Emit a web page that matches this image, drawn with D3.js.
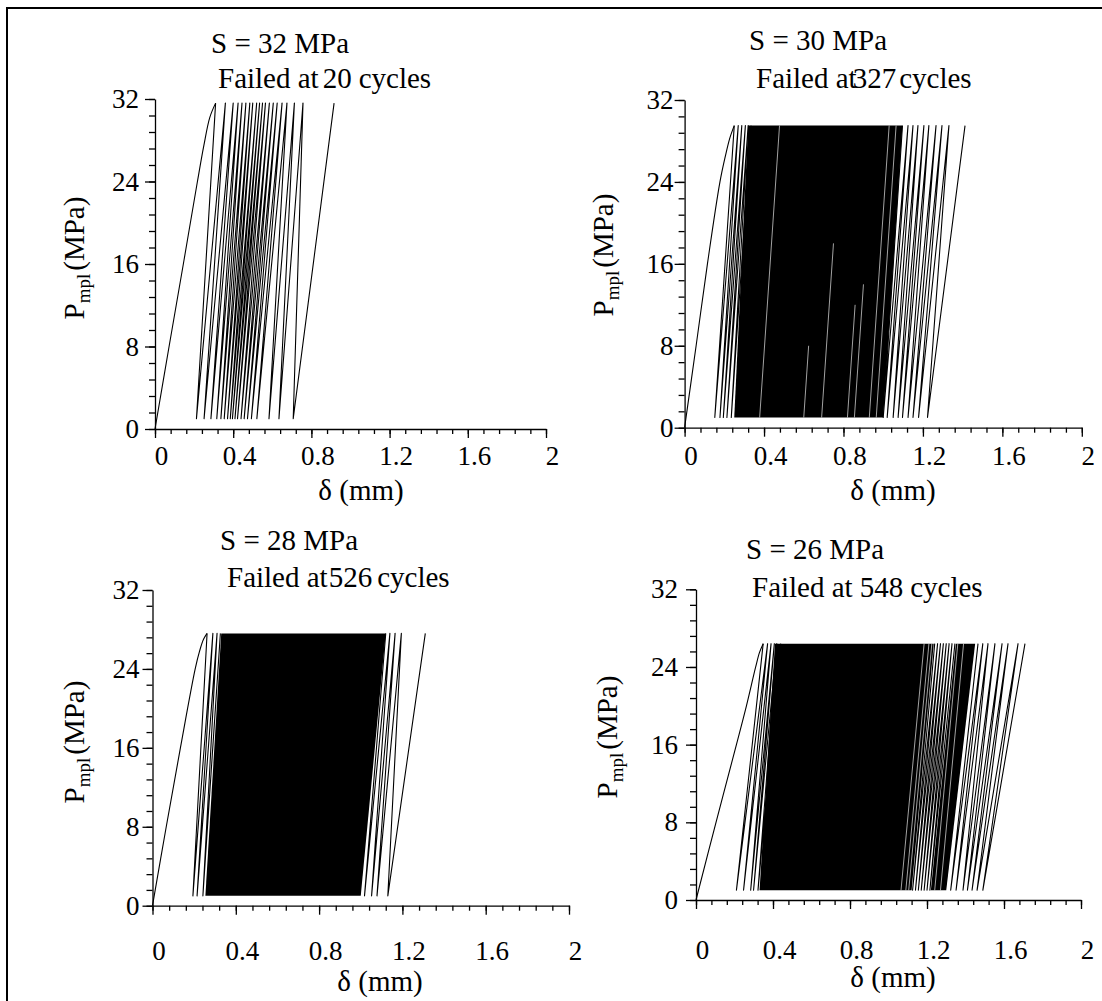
<!DOCTYPE html>
<html>
<head>
<meta charset="utf-8">
<script src="https://cdn.jsdelivr.net/npm/d3@7"></script>
<style>
  body { margin: 0; background: #fff; }
  svg, svg text { font-family: "Liberation Serif", "Times New Roman", "DejaVu Serif", serif; fill: #000; }
</style>
</head>
<body>
<svg id="fig" width="1102" height="1001"></svg>
<script>
// ---- data ----
const stress = [32, 30, 28, 26];          // S (MPa)
const failCycles = [20, 327, 526, 548];
const pMax = [31.6, 29.5, 27.6, 26.4];     // peak of each cycle (MPa)
const pMin = [1, 1, 1, 1];                 // valley of each cycle (MPa)
const xTickVals = [0, 0.4, 0.8, 1.2, 1.6, 2];
const yTickVals = [0, 8, 16, 24, 32];

// first loading branch: displacement (mm) / stress (MPa)
const load1D = [0, 0.072, 0.145, 0.217, 0.25, 0.28, 0.31];
const load1P = [0, 8, 16, 24, 27.5, 30.2, 31.6];
const load2D = [0, 0.058, 0.115, 0.178, 0.205, 0.228, 0.25];
const load2P = [0, 8, 16, 24, 26.5, 28.3, 29.5];
const load3D = [0, 0.066, 0.134, 0.205, 0.226, 0.245, 0.262];
const load3P = [0, 8, 16, 24, 25.8, 27, 27.6];
const load4D = [0, 0.104, 0.21, 0.262, 0.31, 0.33, 0.349];
const load4P = [0, 8, 16, 20, 24, 25.5, 26.4];

// visible cycles: δ where a line reaches the peak (tops) and the valley (bottoms)
const tops1 = [0.31, 0.36, 0.40, 0.425, 0.445, 0.465, 0.485, 0.50, 0.52, 0.535, 0.55, 0.565, 0.585, 0.605, 0.625, 0.65, 0.675, 0.713, 0.757, 0.916];
const bottoms1 = [0.212, 0.251, 0.286, 0.316, 0.337, 0.354, 0.371, 0.385, 0.396, 0.409, 0.422, 0.44, 0.456, 0.473, 0.493, 0.521, 0.583, 0.634, 0.707];

const tops2L = [0.25, 0.27, 0.288, 0.306, 0.32, 0.335];
const bottoms2L = [0.152, 0.178, 0.195, 0.213, 0.235];
const tops2R = [1.097, 1.125, 1.15, 1.175, 1.205, 1.23, 1.266, 1.296, 1.331, 1.412];
const bottoms2R = [1.0, 1.02, 1.05, 1.075, 1.097, 1.125, 1.15, 1.178, 1.223];

const tops3L = [0.262, 0.29, 0.31, 0.326];
const bottoms3L = [0.194, 0.214, 0.242];
const tops3R = [1.12, 1.14, 1.165, 1.195, 1.31];
const bottoms3R = [1.018, 1.052, 1.078, 1.13];

const tops4L = [0.349, 0.372, 0.39, 0.407, 0.42, 0.44];
const bottoms4L = [0.21, 0.247, 0.284, 0.299, 0.322];
const tops4M = [1.24, 1.255, 1.27, 1.285, 1.30, 1.315, 1.33, 1.345];
const bottoms4M = [1.125, 1.14, 1.155, 1.17, 1.185, 1.20, 1.215];
const tops4R = [1.465, 1.49, 1.517, 1.553, 1.59, 1.621, 1.673, 1.709];
const bottoms4R = [1.323, 1.351, 1.387, 1.41, 1.434, 1.46, 1.49];

// solid black regions where hundreds of loops overlap: [valley left, valley right, peak left, peak right]
const band2 = [0.25, 1.0, 0.32, 1.097];
const band3 = [0.254, 1.0, 0.33, 1.12];
const band4a = [0.33, 1.12, 0.41, 1.235];
const band4b = [1.22, 1.30, 1.35, 1.45];

// faint white streaks inside the black: valley δ and the stress they reach
const gaps2D = [0.378, 0.60, 0.69, 0.82, 0.855, 0.93, 0.965];
const gaps2H = [29.5, 8, 18, 12, 14, 29.5, 29.5];
const gapLean2 = 0.1;
const gaps4D = [1.065, 1.09, 1.105, 1.24, 1.27];
const gaps4H = [26.4, 26.4, 26.4, 26.4, 26.4];
const gapLean4 = 0.12;

// ---- layout ----
const svg = d3.select("#fig");
svg.append("rect")
  .attr("x", 7).attr("y", 8)
  .attr("width", 1130).attr("height", 1030)
  .attr("fill", "none").attr("stroke", "#000").attr("stroke-width", 2);

const panels = [
  { left: 155, right: 546, bottom: 429, top: 99, load: [load1D, load1P],
    groups: [[tops1, bottoms1]], bands: [], gaps: null,
    sPos: [211, 53], fPos: [218, 88], fDx: [4, 7], yLab: [84, 258], xLab: [361, 500],
    xPad: 8, yPad: 6 },
  { left: 684.6, right: 1081.8, bottom: 427.7, top: 100, load: [load2D, load2P],
    groups: [[tops2L, bottoms2L], [tops2R, bottoms2R]], bands: [band2], gaps: [gaps2D, gaps2H, gapLean2],
    sPos: [749, 50], fPos: [756, 88], fDx: [-4, 3], yLab: [613, 255], xLab: [893, 500],
    xPad: 9, yPad: 1 },
  { left: 152.5, right: 569, bottom: 905.7, top: 590, load: [load3D, load3P],
    groups: [[tops3L, bottoms3L], [tops3R, bottoms3R]], bands: [band3], gaps: null,
    sPos: [220, 550], fPos: [227, 587], fDx: [1, 5], yLab: [84, 742], xLab: [380, 991],
    xPad: 26, yPad: 3 },
  { left: 696, right: 1081, bottom: 900, top: 589.3, load: [load4D, load4P],
    groups: [[tops4L, bottoms4L], [tops4M, bottoms4M], [tops4R, bottoms4R]], bands: [band4a, band4b],
    gaps: [gaps4D, gaps4H, gapLean4],
    sPos: [746, 559], fPos: [752, 597], fDx: [7, 7], yLab: [617, 737], xLab: [893, 987],
    xPad: 31, yPad: 8 }
];

panels.forEach((p, i) => {
  const x = d3.scaleLinear().domain([0, 2]).range([p.left, p.right]);
  const y = d3.scaleLinear().domain([0, 32]).range([p.bottom, p.top]);
  const hi = pMax[i], lo = pMin[i];
  const g = svg.append("g");
  const line = d3.line();

  // dense black regions
  p.bands.forEach(b => {
    g.append("path")
      .attr("d", line([[x(b[0]), y(lo)], [x(b[1]), y(lo)], [x(b[3]), y(hi)], [x(b[2]), y(hi)]]) + "Z")
      .attr("fill", "#000");
  });

  // unloading / reloading lines
  p.groups.forEach(([tops, bottoms]) => {
    const pts = [];
    tops.forEach((t, k) => {
      pts.push([x(t), y(hi)]);
      if (k < bottoms.length) pts.push([x(bottoms[k]), y(lo)]);
    });
    g.append("path")
      .attr("d", line(pts))
      .attr("fill", "none").attr("stroke", "#000")
      .attr("stroke-width", 1.1).attr("stroke-linejoin", "round");
  });

  // white streaks
  if (p.gaps) {
    const [gd, gh, lean] = p.gaps;
    gd.forEach((d, k) => {
      const d2 = d + lean * (gh[k] - lo) / (hi - lo);
      g.append("line")
        .attr("x1", x(d)).attr("y1", y(lo))
        .attr("x2", x(d2)).attr("y2", y(gh[k]))
        .attr("stroke", "#fff").attr("stroke-width", 0.8).attr("stroke-opacity", 0.8);
    });
  }

  // first loading branch
  const lp = p.load[0].map((d, k) => [x(d), y(p.load[1][k])]);
  g.append("path")
    .attr("d", d3.line().curve(d3.curveCatmullRom.alpha(0.5))(lp))
    .attr("fill", "none").attr("stroke", "#000").attr("stroke-width", 1.1);

  // axes
  const xAxis = g.append("g")
    .attr("transform", "translate(0," + p.bottom + ")")
    .call(d3.axisBottom(x).tickValues(xTickVals).tickSize(9).tickSizeOuter(0)
      .tickPadding(p.xPad).tickFormat(d3.format("")));
  g.append("g")
    .attr("transform", "translate(0," + p.bottom + ")")
    .call(d3.axisBottom(x).tickValues(d3.range(0, 2.0001, 0.08)).tickSize(5).tickFormat(""))
    .call(a => a.select(".domain").remove());
  const yAxis = g.append("g")
    .attr("transform", "translate(" + p.left + ",0)")
    .call(d3.axisLeft(y).tickValues(yTickVals).tickSize(10).tickSizeOuter(0)
      .tickPadding(p.yPad).tickFormat(d3.format("")));
  g.append("g")
    .attr("transform", "translate(" + p.left + ",0)")
    .call(d3.axisLeft(y).tickValues(d3.range(0, 32.001, 1.6)).tickSize(6).tickFormat(""))
    .call(a => a.select(".domain").remove());

  g.selectAll(".tick line, .domain").attr("stroke-width", 1.3);
  [xAxis, yAxis].forEach(a => a.attr("font-size", null).attr("font-family", null)
    .selectAll("text").style("font-size", "27px"));
  xAxis.selectAll("text").attr("dx", 6);

  // titles
  g.append("text")
    .attr("x", p.sPos[0]).attr("y", p.sPos[1])
    .style("font-size", "29px")
    .text("S = " + stress[i] + " MPa");
  const ft = g.append("text")
    .attr("x", p.fPos[0]).attr("y", p.fPos[1])
    .style("font-size", "29px");
  ft.append("tspan").text("Failed at");
  ft.append("tspan").attr("dx", p.fDx[0]).text(failCycles[i]);
  ft.append("tspan").attr("dx", p.fDx[1]).text("cycles");

  // axis titles
  const yl = g.append("text")
    .attr("transform", "translate(" + p.yLab[0] + "," + p.yLab[1] + ") rotate(-90)")
    .attr("text-anchor", "middle")
    .style("font-size", "29px");
  yl.append("tspan").text("P");
  yl.append("tspan").attr("dy", 6).style("font-size", "19px").text("mpl");
  yl.append("tspan").attr("dy", -6).attr("dx", 3).text("(MPa)");

  g.append("text")
    .attr("x", p.xLab[0]).attr("y", p.xLab[1])
    .attr("text-anchor", "middle")
    .style("font-size", "29px")
    .text("δ (mm)");
});
</script>
</body>
</html>
